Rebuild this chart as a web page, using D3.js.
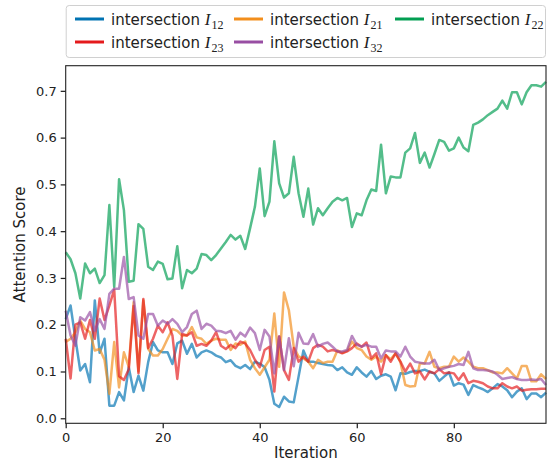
<!DOCTYPE html>
<html>
<head>
<meta charset="utf-8">
<script src="https://cdn.jsdelivr.net/npm/d3@7"></script>
<style>
  body { margin: 0; background: #fff; }
  text { font-family: "DejaVu Sans", sans-serif; }
</style>
</head>
<body>
<div id="chart"></div>
<script>
// attention score per iteration
var i12 = [0.212,0.241,0.17,0.102,0.116,0.077,0.252,0.14,0.17,0.027,0.027,0.056,0.038,0.109,0.056,0.091,0.059,0.12,0.163,0.145,
           0.141,0.141,0.116,0.16,0.166,0.138,0.159,0.13,0.141,0.145,0.141,0.134,0.13,0.12,0.124,0.112,0.107,0.114,0.105,0.121,
           0.117,0.109,0.082,0.031,0.024,0.046,0.036,0.034,0.089,0.145,0.121,0.121,0.118,0.116,0.114,0.113,0.103,0.109,0.098,0.093,
           0.109,0.098,0.089,0.101,0.084,0.091,0.094,0.089,0.06,0.096,0.095,0.099,0.101,0.101,0.104,0.099,0.096,0.08,0.089,0.098,
           0.07,0.075,0.072,0.05,0.071,0.066,0.062,0.056,0.064,0.073,0.068,0.06,0.045,0.057,0.064,0.041,0.053,0.053,0.045,0.055];
var i21 = [0.163,0.17,0.184,0.209,0.191,0.184,0.145,0.148,0.125,0.052,0.163,0.066,0.141,0.11,0.248,0.1,0.252,0.148,0.134,0.134,
           0.148,0.17,0.191,0.187,0.177,0.177,0.195,0.173,0.17,0.159,0.166,0.17,0.168,0.168,0.146,0.16,0.157,0.164,0.125,0.107,
           0.093,0.109,0.125,0.224,0.11,0.269,0.231,0.153,0.132,0.128,0.121,0.107,0.125,0.118,0.121,0.121,0.145,0.14,0.144,0.164,
           0.15,0.146,0.132,0.125,0.132,0.121,0.135,0.126,0.139,0.12,0.071,0.068,0.069,0.117,0.117,0.142,0.11,0.107,0.11,0.11,
           0.132,0.121,0.13,0.121,0.11,0.107,0.107,0.103,0.098,0.098,0.096,0.107,0.096,0.085,0.112,0.112,0.079,0.079,0.094,0.084];
var i22 = [0.355,0.34,0.31,0.256,0.331,0.31,0.32,0.289,0.306,0.456,0.281,0.511,0.445,0.292,0.294,0.415,0.405,0.324,0.317,0.335,
           0.33,0.297,0.299,0.368,0.278,0.317,0.31,0.32,0.351,0.349,0.338,0.349,0.363,0.377,0.392,0.382,0.39,0.362,0.406,0.452,
           0.534,0.432,0.463,0.592,0.502,0.472,0.481,0.559,0.481,0.431,0.491,0.414,0.449,0.434,0.449,0.463,0.471,0.466,0.471,0.409,
           0.438,0.434,0.466,0.489,0.486,0.585,0.481,0.517,0.515,0.515,0.568,0.577,0.61,0.546,0.568,0.536,0.565,0.595,0.591,0.572,
           0.577,0.6,0.579,0.571,0.627,0.632,0.639,0.648,0.655,0.662,0.679,0.662,0.697,0.697,0.671,0.697,0.712,0.712,0.709,0.719];
var i23 = [0.17,0.085,0.2,0.205,0.17,0.21,0.17,0.256,0.21,0.241,0.275,0.09,0.082,0.105,0.24,0.096,0.255,0.15,0.17,0.198,
           0.184,0.205,0.177,0.084,0.18,0.177,0.184,0.155,0.159,0.155,0.166,0.184,0.155,0.148,0.157,0.15,0.164,0.16,0.146,0.125,
           0.109,0.146,0.153,0.057,0.175,0.103,0.082,0.15,0.121,0.132,0.121,0.15,0.157,0.153,0.143,0.146,0.143,0.139,0.143,0.15,
           0.16,0.153,0.162,0.128,0.139,0.094,0.135,0.121,0.139,0.121,0.1,0.117,0.096,0.1,0.083,0.1,0.096,0.105,0.096,0.098,
           0.096,0.082,0.096,0.075,0.08,0.078,0.075,0.068,0.064,0.064,0.075,0.068,0.064,0.068,0.059,0.061,0.062,0.062,0.063,0.063];
var i32 = [0.23,0.177,0.155,0.216,0.209,0.227,0.187,0.212,0.191,0.266,0.277,0.277,0.345,0.255,0.259,0.177,0.17,0.223,0.223,0.198,
           0.209,0.202,0.212,0.202,0.184,0.195,0.223,0.23,0.191,0.202,0.198,0.187,0.186,0.182,0.187,0.168,0.183,0.175,0.194,0.182,
           0.146,0.189,0.175,0.096,0.175,0.103,0.171,0.111,0.183,0.16,0.159,0.18,0.153,0.159,0.162,0.153,0.143,0.143,0.146,0.176,
           0.157,0.153,0.157,0.153,0.153,0.128,0.145,0.143,0.143,0.132,0.153,0.132,0.121,0.119,0.117,0.117,0.125,0.103,0.107,0.11,
           0.112,0.116,0.114,0.142,0.107,0.103,0.103,0.102,0.1,0.093,0.084,0.086,0.088,0.084,0.082,0.082,0.083,0.082,0.084,0.071];

var seriesNames = ["12", "21", "22", "23", "32"];
var seriesColors = ["#0173b2", "#f28e1c", "#029e52", "#e41a1c", "#984ea3"];
var xTicks = [0, 20, 40, 60, 80];
var yTicks = [0, 0.1, 0.2, 0.3, 0.4, 0.5, 0.6, 0.7];

var allSeries = [i12, i21, i22, i23, i32];

var w = 558, h = 464;
var margin = {top: 65.7, right: 12, bottom: 40.7, left: 65.7},
    width = w - margin.left - margin.right,
    height = h - margin.top - margin.bottom;

var svg = d3.select("#chart")
            .append("svg")
            .attr("width", w)
            .attr("height", h);

var g = svg.append("g")
           .attr("transform", "translate(" + margin.left + "," + margin.top + ")");

// matplotlib style 5% padding on y
var flat = [].concat(...allSeries);
var ymin = d3.min(flat), ymax = d3.max(flat);
var pad = (ymax - ymin) * 0.05;

var x = d3.scaleLinear()
    .domain([0, i12.length - 1])
    .range([0, width]);

var y = d3.scaleLinear()
    .domain([ymin - pad, ymax + pad])
    .range([height, 0]);

// axes
var xAxis = g.append("g")
    .attr("transform", "translate(0," + height + ")")
    .call(d3.axisBottom(x).tickValues(xTicks).tickSize(5).tickPadding(4).tickFormat(d3.format("d")));

var yAxis = g.append("g")
    .call(d3.axisLeft(y).tickValues(yTicks).tickSize(5).tickPadding(4).tickFormat(d3.format(".1f")));

[xAxis, yAxis].forEach(function(a) {
    a.select(".domain").remove();
    a.selectAll("line").attr("stroke", "#222").attr("stroke-width", 1.25);
    a.selectAll("text").attr("fill", "#222").style("font-size", "13px")
        .style("font-family", "DejaVu Sans, sans-serif");
});

// lines
var line = d3.line()
    .x(function(d, i) { return x(i); })
    .y(function(d) { return y(d); });

allSeries.forEach(function(s, k) {
    g.append("path")
        .datum(s)
        .attr("fill", "none")
        .attr("stroke", seriesColors[k])
        .attr("stroke-opacity", 0.68)
        .attr("stroke-width", 2.5)
        .attr("stroke-linejoin", "round")
        .attr("d", line);
});

// frame
g.append("rect")
    .attr("width", width)
    .attr("height", height)
    .attr("fill", "none")
    .attr("stroke", "#222")
    .attr("stroke-width", 1.1);

// axis labels
svg.append("text")
    .attr("x", margin.left + width / 2)
    .attr("y", 458)
    .attr("text-anchor", "middle")
    .style("font-size", "15px")
    .attr("fill", "#222")
    .text("Iteration");

svg.append("text")
    .attr("transform", "translate(25," + (margin.top + height / 2) + ") rotate(-90)")
    .attr("text-anchor", "middle")
    .style("font-size", "15px")
    .attr("fill", "#222")
    .text("Attention Score");

// legend, expanded over the axes width
var legend = svg.append("g");
legend.append("rect")
    .attr("x", margin.left + 0.5)
    .attr("y", 5.5)
    .attr("width", width - 1)
    .attr("height", 52)
    .attr("rx", 3)
    .attr("fill", "#fff")
    .attr("fill-opacity", 0.85)
    .attr("stroke", "#d0d0d0");

var colX = [75, 234, 395];
var rowY = [19, 42];
seriesNames.forEach(function(n, k) {
    var cx = colX[k % 3], cy = rowY[Math.floor(k / 3)];
    legend.append("line")
        .attr("x1", cx).attr("x2", cx + 29)
        .attr("y1", cy).attr("y2", cy)
        .attr("stroke", seriesColors[k])
        .attr("stroke-width", 3);
    var t = legend.append("text")
        .attr("x", cx + 36)
        .attr("y", cy + 5.5)
        .attr("fill", "#222")
        .style("font-size", "15px");
    t.append("tspan").text("intersection ");
    t.append("tspan")
        .style("font-family", "Liberation Serif, serif")
        .style("font-style", "italic")
        .style("font-size", "17px")
        .text("I");
    t.append("tspan")
        .attr("dy", 4)
        .attr("dx", 1)
        .style("font-family", "Liberation Serif, serif")
        .style("font-size", "12px")
        .text(n);
});
</script>
</body>
</html>
